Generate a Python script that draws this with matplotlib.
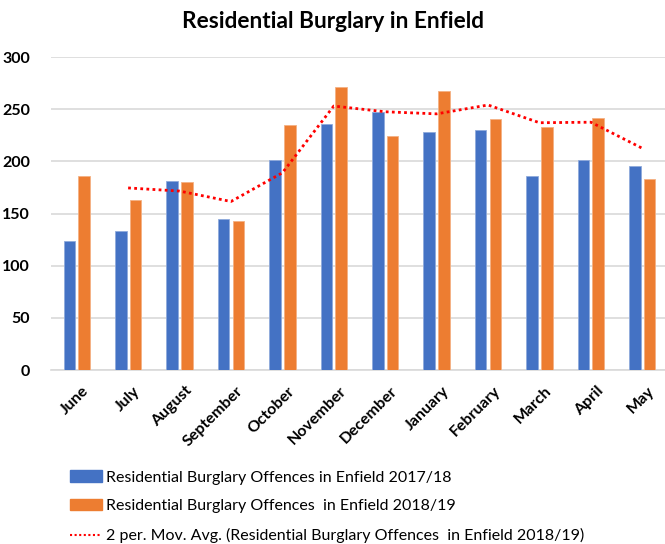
import matplotlib
matplotlib.use("Agg")
import matplotlib.pyplot as plt
import numpy as np
import pandas as pd
from matplotlib.patches import Patch
from matplotlib.lines import Line2D

months = ["June", "July", "August", "September", "October", "November",
          "December", "January", "February", "March", "April", "May"]
offences_2017_18 = [124, 133, 181, 145, 201, 236, 247, 228, 230, 186, 201, 196]
offences_2018_19 = [186, 163, 180, 143, 235, 271, 224, 267, 241, 233, 242, 183]
y_ticks = [0, 50, 100, 150, 200, 250, 300]

label_a = "Residential Burglary Offences in Enfield 2017/18"
label_b = "Residential Burglary Offences  in Enfield 2018/19"
label_ma = "2 per. Mov. Avg. (Residential Burglary Offences  in Enfield 2018/19)"

# 2-period moving average trendline (as Excel computes it)
mov_avg = pd.Series(offences_2018_19, dtype=float).rolling(2).mean().to_numpy()

plt.rcParams['font.family'] = ['Lato', 'DejaVu Sans']

W, H = 665, 544
fig = plt.figure(figsize=(W / 100, H / 100), dpi=100)
ax = fig.add_axes([51 / W, (H - 370) / H, 617 / W, 313 / H])

x = np.arange(len(months))
bw = 0.225
off = 0.143
blue = "#4472C4"
orange = "#ED7D31"
ax.bar(x - off, offences_2017_18, width=bw, color=blue, edgecolor="#8FAADC", linewidth=0.6, zorder=3)
ax.bar(x + off, offences_2018_19, width=bw, color=orange, edgecolor="#F4B183", linewidth=0.6, zorder=3)
ax.plot(x, mov_avg, color="#FF0000", linestyle=(0, (1, 1.2)), linewidth=2, zorder=4)

ax.set_xlim(-0.5, len(months) - 0.5)
ax.set_ylim(0, 300)
ax.set_yticks(y_ticks)
ax.set_yticklabels([str(v) for v in y_ticks], fontsize=11.5, fontweight='bold')
ax.yaxis.grid(True, color="#D9D9D9", linewidth=1.2, zorder=0)
ax.set_axisbelow(True)
for s in ["top", "right", "left"]:
    ax.spines[s].set_visible(False)
ax.spines["bottom"].set_color("#D9D9D9")
ax.spines["bottom"].set_linewidth(1.2)
ax.tick_params(axis='both', length=0)
ax.tick_params(axis='y', pad=15)
ax.set_xticks(x + 0.1)
ax.set_xticklabels(months, rotation=45, ha='right', va='top', rotation_mode='anchor',
                   fontsize=11.5, fontweight='bold')
ax.tick_params(axis='x', pad=10)

fig.text(0.5, 1 - 22 / H, "Residential Burglary in Enfield", ha='center', va='center',
         fontsize=16.3, fontweight='bold')

handles = [Patch(color=blue), Patch(color=orange),
           Line2D([0], [0], color="#FF0000", linestyle=(0, (1, 1.2)), linewidth=1.5)]
fig.legend(handles, [label_a, label_b, label_ma], loc='upper left',
           bbox_to_anchor=(56 / W, 1 - 456 / H), frameon=False, fontsize=11.5,
           handlelength=1.95, handletextpad=0.25, labelspacing=0.92, handleheight=0.7)

fig.savefig("out.png", dpi=100)
